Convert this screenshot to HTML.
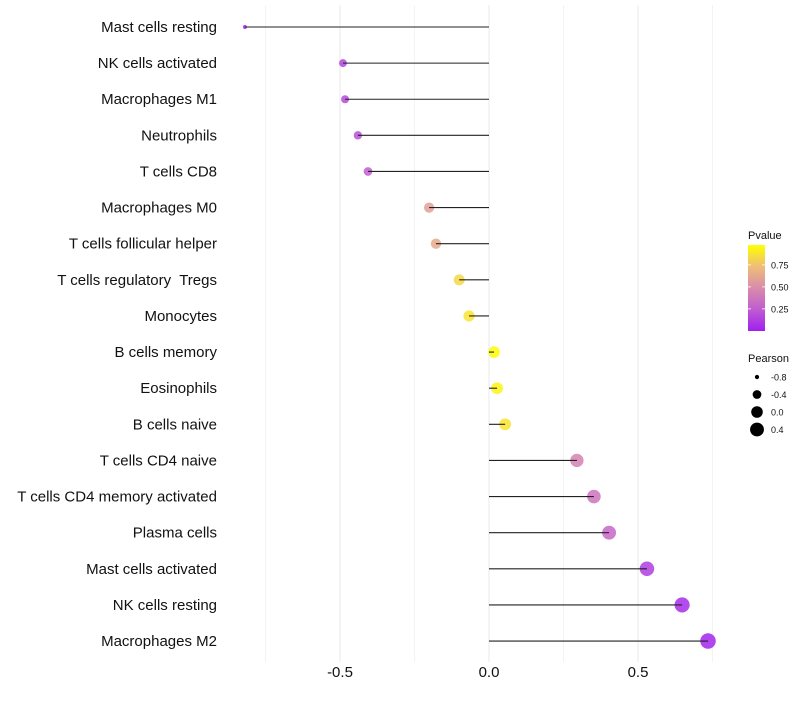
<!DOCTYPE html>
<html><head><meta charset="utf-8">
<style>
body{margin:0;background:#fff;font-family:"Liberation Sans",sans-serif;}
svg text{font-family:"Liberation Sans",sans-serif;white-space:pre;}
</style></head>
<body>
<svg id="chart" width="800" height="700" viewBox="0 0 800 700"></svg>
<script>
const categories=["Mast cells resting","NK cells activated","Macrophages M1","Neutrophils","T cells CD8","Macrophages M0","T cells follicular helper","T cells regulatory  Tregs","Monocytes","B cells memory","Eosinophils","B cells naive","T cells CD4 naive","T cells CD4 memory activated","Plasma cells","Mast cells activated","NK cells resting","Macrophages M2"];
const pearson=[-0.819,-0.49,-0.483,-0.44,-0.406,-0.201,-0.178,-0.1,-0.067,0.017,0.027,0.054,0.295,0.352,0.403,0.53,0.648,0.735];
const pvalues=[0.0,0.15,0.17,0.2,0.25,0.6,0.65,0.85,0.9,0.98,0.96,0.9,0.45,0.37,0.3,0.12,0.05,0.02];
const xTicks=[-0.5,0,0.5];
const xTickLabels=["-0.5","0.0","0.5"];
const xMinor=[-0.75,-0.25,0.25,0.75];
const pLegendTicks=[0.25,0.5,0.75];
const pLegendLabels=["0.25","0.50","0.75"];
const sizeLegendValues=[-0.8,-0.4,0.0,0.4];
const sizeLegendLabels=["-0.8","-0.4","0.0","0.4"];

const NS="http://www.w3.org/2000/svg";
const svg=document.getElementById('chart');
function x(v){return 489+v*298;}
function y(i){return 27+i*36.12;}
function r(v){return 1.07*Math.sqrt(Math.max(1,29.3+31.7*v));}
const stops=[[0,[160,32,240]],[0.25,[192,92,208]],[0.5,[217,140,170]],[0.75,[238,190,120]],[1,[255,255,0]]];
function col(p){
  for(let k=0;k<stops.length-1;k++){
    const a=stops[k],b=stops[k+1];
    if(p<=b[0]){const t=(p-a[0])/(b[0]-a[0]);
      return 'rgb('+a[1].map((c,j)=>Math.round(c+(b[1][j]-c)*t)).join(',')+')';}
  }
  return 'rgb(255,255,0)';
}
function el(tag,attrs){const e=document.createElementNS(NS,tag);for(const k in attrs)e.setAttribute(k,attrs[k]);svg.appendChild(e);return e;}

xMinor.forEach(v=>{const g=el('line',{x1:x(v),x2:x(v),y1:5,y2:662,stroke:'#f0f0f0','stroke-width':0.8});

});
xTicks.forEach((v,i)=>{const g=el('line',{x1:x(v),x2:x(v),y1:5,y2:662,stroke:'#ebebeb','stroke-width':1.1});


const t=el('text',{x:x(v),y:677,'text-anchor':'middle','font-size':15,fill:'#111'});t.textContent=xTickLabels[i];

});

categories.forEach((c,i)=>{
  const t=el('text',{x:217,y:y(i)+5,'text-anchor':'end','font-size':15,fill:'#111'});t.textContent=c;
  
  
  const d=el('circle',{cx:x(pearson[i]),cy:y(i),r:r(pearson[i]),fill:col(pvalues[i]),'fill-opacity':0.85});
  
  
  const l=el('line',{x1:x(0),x2:x(pearson[i]),y1:y(i),y2:y(i),stroke:'#222','stroke-width':1.1});
  
  
});

const defs=el('defs',{});
const lg=document.createElementNS(NS,'linearGradient');lg.setAttribute('id','pg');lg.setAttribute('x1','0');lg.setAttribute('y1','1');lg.setAttribute('x2','0');lg.setAttribute('y2','0');
stops.forEach(s=>{const st=document.createElementNS(NS,'stop');st.setAttribute('offset',s[0]);st.setAttribute('stop-color','rgb('+s[1].join(',')+')');lg.appendChild(st);});
defs.appendChild(lg);
const pt=el('text',{x:748,y:239,'font-size':11,fill:'#111'});pt.textContent='Pvalue';


const bar=el('rect',{x:748,y:245,width:17,height:86,fill:'url(#pg)'});


function ly(p){return 330-(p-0.01)*88;}
pLegendTicks.forEach((p,i)=>{
  el('line',{x1:748,x2:751,y1:ly(p),y2:ly(p),stroke:'#fff','stroke-width':0.8});
  el('line',{x1:762,x2:765,y1:ly(p),y2:ly(p),stroke:'#fff','stroke-width':0.8});
  const t=el('text',{x:771,y:ly(p)+3.5,'font-size':9,fill:'#111'});t.textContent=pLegendLabels[i];
  
  
});
const st=el('text',{x:748,y:362,'font-size':11,fill:'#111'});st.textContent='Pearson';


sizeLegendValues.forEach((v,i)=>{
  const cy=377+i*17.5;
  const c=el('circle',{cx:757,cy:cy,r:r(v),fill:'#000'});
  
  
  const t=el('text',{x:771,y:cy+3.5,'font-size':9,fill:'#111'});t.textContent=sizeLegendLabels[i];
  
  
});
</script>
</body></html>
